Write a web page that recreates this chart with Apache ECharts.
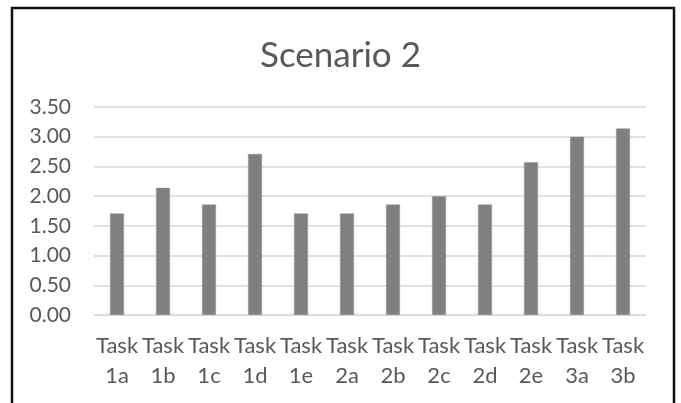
<!doctype html>
<html>
<head>
<meta charset="UTF-8">
<title>Scenario 2</title>
<script src="https://cdn.jsdelivr.net/npm/echarts@6/dist/echarts.min.js"></script>
<style>
  html, body { margin: 0; padding: 0; background: #fff; }
  #main { width: 681px; height: 403px; }
</style>
</head>
<body>
<div id="main"></div>
<script>
// data
var categories = ['Task\n1a', 'Task\n1b', 'Task\n1c', 'Task\n1d', 'Task\n1e', 'Task\n2a',
                  'Task\n2b', 'Task\n2c', 'Task\n2d', 'Task\n2e', 'Task\n3a', 'Task\n3b'];
var scores = [1.71, 2.14, 1.86, 2.71, 1.71, 1.71, 1.86, 2.00, 1.86, 2.57, 3.00, 3.14];
var yTicks = { min: 0, max: 3.5, interval: 0.5 };

var myChart = echarts.init(document.getElementById('main'));
var textColor = '#595959';

var option = {
    animation: false,
    backgroundColor: '#fff',
    title: {
        text: 'Scenario 2',
        left: 'center',
        top: 33,
        textStyle: { fontFamily: 'Lato', fontSize: 35, fontWeight: 'normal', color: textColor }
    },
    // black frame round the chart
    graphic: [{
        type: 'rect',
        shape: { x: 12, y: 8, width: 662, height: 420 },
        style: { fill: null, stroke: '#111', lineWidth: 2.5 }
    }],
    grid: { left: 94, right: 35, top: 107, bottom: 88 },
    xAxis: {
        type: 'category',
        data: categories,
        axisLine: { show: true, lineStyle: { color: '#d9d9d9', width: 1.5 } },
        axisTick: { show: false },
        axisLabel: {
            interval: 0,
            margin: 16,
            fontFamily: 'Lato',
            fontSize: 22,
            lineHeight: 30,
            color: textColor
        }
    },
    yAxis: {
        type: 'value',
        min: yTicks.min,
        max: yTicks.max,
        interval: yTicks.interval,
        axisLine: { show: false },
        axisTick: { show: false },
        splitLine: { lineStyle: { color: '#d9d9d9', width: 1.5 } },
        axisLabel: {
            margin: 23,
            fontFamily: 'Lato',
            fontSize: 21,
            color: textColor,
            formatter: function (v) { return v.toFixed(2); }
        }
    },
    series: [{
        type: 'bar',
        data: scores,
        barWidth: 14,
        itemStyle: { color: '#7f7f7f', borderColor: '#999', borderWidth: 0.5 }
    }]
};
myChart.setOption(option);
</script>
</body>
</html>
